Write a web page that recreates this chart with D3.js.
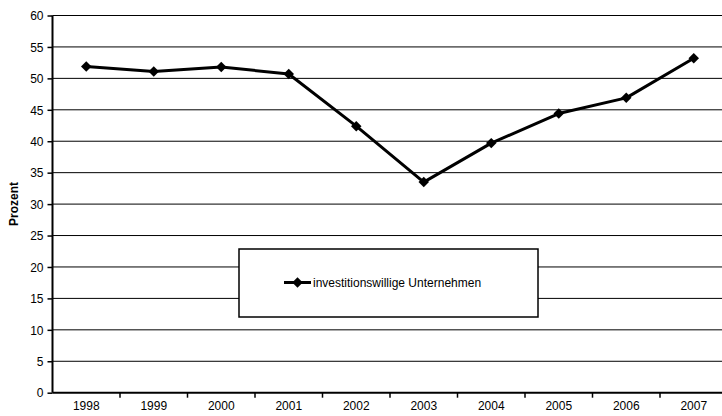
<!DOCTYPE html>
<html lang="de">
<head>
<meta charset="UTF-8">
<title>investitionswillige Unternehmen</title>
<script src="https://d3js.org/d3.v7.min.js"></script>
<style>
  body { margin: 0; background: #fff; }
  text { font-family: "Liberation Sans", Arial, sans-serif; fill: #000; }
  .tick text { font-size: 12px; fill: #000; }
</style>
</head>
<body>
<div id="chart"></div>
<script>
// data
var years = ["1998", "1999", "2000", "2001", "2002", "2003", "2004", "2005", "2006", "2007"];
var values = [51.9, 51.1, 51.8, 50.7, 42.4, 33.5, 39.7, 44.4, 46.9, 53.2];
var yTicks = [0, 5, 10, 15, 20, 25, 30, 35, 40, 45, 50, 55, 60];
var seriesName = "investitionswillige Unternehmen";

var width = 722, height = 416;
// plot area; it runs off the right edge in the original
var plotLeft = 52.5, plotTop = 15.5, plotBottom = 392.7;
var plotRight = plotLeft + 675;

var svg = d3.select("#chart").append("svg")
    .attr("width", width)
    .attr("height", height);

var x = d3.scaleBand().domain(years).range([plotLeft, plotRight]);
var y = d3.scaleLinear().domain([0, 60]).range([plotBottom, plotTop]);

// gridlines
svg.append("g")
  .selectAll("line")
  .data(yTicks.slice(1))
  .enter().append("line")
    .attr("x1", plotLeft).attr("x2", plotRight)
    .attr("y1", function(d) { return y(d); })
    .attr("y2", function(d) { return y(d); })
    .attr("stroke", "#000")
    .attr("stroke-width", 1);

// y axis
var yAxis = svg.append("g")
    .attr("transform", "translate(" + plotLeft + ",0)")
    .call(d3.axisLeft(y).tickValues(yTicks).tickSize(5).tickPadding(4));
yAxis.select(".domain").attr("stroke-width", 2).attr("d", "M0," + plotTop + "V" + plotBottom);
yAxis.selectAll(".tick line").attr("stroke-width", 1.5);
yAxis.selectAll(".tick text").attr("dy", "0.35em");

// x axis, ticks sit between categories
var xAxis = svg.append("g")
    .attr("transform", "translate(0," + plotBottom + ")")
    .call(d3.axisBottom(x).tickSize(0).tickPadding(9));
xAxis.select(".domain").attr("stroke-width", 2).attr("d", "M" + plotLeft + ",0H" + plotRight);
xAxis.selectAll(".tick text").attr("dy", "0.71em");
xAxis.selectAll(".sep")
  .data(years.slice(1))
  .enter().append("line")
    .attr("class", "sep")
    .attr("x1", function(d) { return x(d); })
    .attr("x2", function(d) { return x(d); })
    .attr("y1", 0).attr("y2", 5)
    .attr("stroke", "#000")
    .attr("stroke-width", 1.5);

// y label
svg.append("text")
    .attr("transform", "translate(18,204) rotate(-90)")
    .attr("text-anchor", "middle")
    .style("font-size", "12px")
    .style("font-weight", "bold")
    .text("Prozent");

// series
var pts = years.map(function(yr, i) { return [x(yr) + x.bandwidth() / 2, y(values[i])]; });

svg.append("path")
    .attr("d", d3.line()(pts))
    .attr("fill", "none")
    .attr("stroke", "#000")
    .attr("stroke-width", 3)
    .attr("stroke-linejoin", "round");

var diamond = d3.symbol().type(d3.symbolDiamond2).size(70);
svg.append("g")
  .selectAll("path")
  .data(pts)
  .enter().append("path")
    .attr("d", diamond)
    .attr("transform", function(d) { return "translate(" + d[0] + "," + d[1] + ")"; })
    .attr("fill", "#000");

// legend
var lg = svg.append("g");
lg.append("rect")
    .attr("x", 239).attr("y", 249)
    .attr("width", 299).attr("height", 68)
    .attr("fill", "#fff")
    .attr("stroke", "#000")
    .attr("stroke-width", 1.5);
lg.append("line")
    .attr("x1", 284).attr("x2", 311)
    .attr("y1", 282.5).attr("y2", 282.5)
    .attr("stroke", "#000")
    .attr("stroke-width", 3);
lg.append("path")
    .attr("d", diamond)
    .attr("transform", "translate(297.5,282.5)")
    .attr("fill", "#000");
lg.append("text")
    .attr("x", 313)
    .attr("y", 282.5)
    .attr("dy", "0.35em")
    .style("font-size", "12px")
    .text(seriesName);
</script>
</body>
</html>
